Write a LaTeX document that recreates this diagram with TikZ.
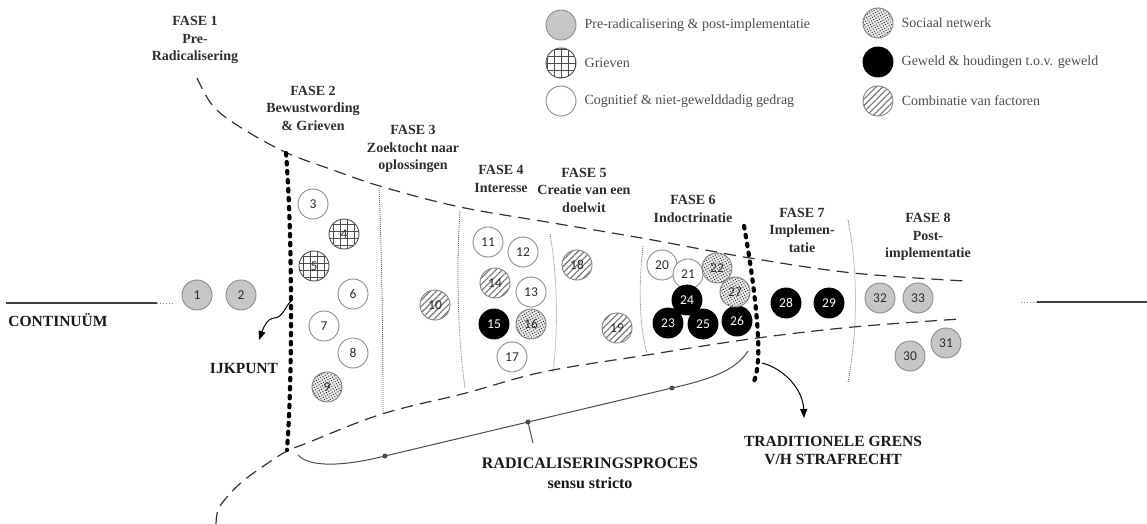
\documentclass[tikz,border=0pt]{standalone}
\usepackage{fontspec}
\setmainfont{Liberation Serif}
\newfontfamily\numfont{Carlito}
\usetikzlibrary{arrows.meta,positioning,patterns.meta}
\definecolor{inkgray}{HTML}{2E2E2E}
\definecolor{legendgray}{HTML}{4D4D4D}
\definecolor{rimgray}{HTML}{8C8C8C}
\definecolor{pregray}{HTML}{C6C6C6}

\tikzset{
  factor/.style={circle, draw=rimgray, line width=0.9pt, fill=white, minimum size=30pt, inner sep=0pt,
    text=inkgray, font=\numfont\fontsize{13.5}{13.5}\selectfont},
  prerad/.style={factor, fill=pregray},
  grief/.style={factor, draw=black!70, path picture={\draw[black!70, line width=0.6pt]
    (path picture bounding box.south west) grid[step=7pt] (path picture bounding box.north east);}},
  cog/.style={factor},
  social/.style={factor, draw=gray, preaction={fill=black!8}, pattern={Dots[distance=2.6pt,radius=0.7pt,angle=30]}, pattern color=black!85},
  violence/.style={factor, draw=black, fill=black, text=white},
  combi/.style={factor, draw=gray, preaction={fill=white}, pattern={Lines[angle=45,distance=4.5pt,line width=1.1pt]}, pattern color=black!55},
  fase/.style={align=center, text=inkgray, font=\bfseries\fontsize{14}{17.5}\selectfont},
  legend/.style={text=legendgray, font=\fontsize{14}{14}\selectfont, inner sep=0pt},
  marker/.style={align=center, text=black!90, font=\bfseries\fontsize{15.5}{18}\selectfont},
  bigdash/.style={line width=1.2pt, dash pattern=on 12pt off 7pt, black!80},
  sepline/.style={line width=0.8pt, dash pattern=on 0.8pt off 1.2pt, black!65},
  gateline/.style={line width=4.2pt, dash pattern=on 2.5pt off 6.5pt, line cap=round},
  contline/.style={line width=1.4pt, black!75},
  bracket/.style={line width=1pt, black!70},
  tick/.style={circle, fill=black!70, inner sep=0pt, minimum size=5pt},
  pointer/.style={line width=1pt, -{Triangle[length=9pt,width=7pt]}},
}

\begin{document}
\begin{tikzpicture}[x=1pt, y=-1pt, line join=round]
  \useasboundingbox (0,0) rectangle (1147,524);

  % legend
  \node[prerad] (lpre) at (561,25) {};
  \node[grief] (lgrief) at (561,63) {};
  \node[cog] (lcog) at (561,101) {};
  \node[social] (lsocial) at (878,23) {};
  \node[violence] (lviolence) at (878,62) {};
  \node[combi] (lcombi) at (878,101) {};
  \node[legend, right=8pt of lpre] {Pre-radicalisering \& post-implementatie};
  \node[legend, right=8pt of lgrief] {Grieven};
  \node[legend, right=8pt of lcog] {Cognitief \& niet-gewelddadig gedrag};
  \node[legend, right=8pt of lsocial] {Sociaal netwerk};
  \node[legend, right=8pt of lviolence] {Geweld \& houdingen t.o.v. geweld};
  \node[legend, right=8pt of lcombi] {Combinatie van factoren};

  % funnel
  \draw[bigdash] plot[smooth, tension=0.6] coordinates {(197,78) (213,106) (240,127) (285,152) (333,170)
    (383,187) (460,207) (553,223) (647,239) (750,258) (853,273) (965,281)};
  \draw[bigdash] plot[smooth, tension=0.6] coordinates {(216,524) (218,510) (227,497) (243,481) (268,463)
    (287,451) (307,443) (382,414) (466,393) (543,372) (647,355) (750,339) (853,327) (960,319)};

  % phase borders
  \draw[sepline] (379,188) .. controls (382,260) and (383,340) .. (383,413);
  \draw[sepline] (460,211) .. controls (456,270) and (458,340) .. (465,388);
  \draw[sepline] (550,234) .. controls (558,280) and (558,330) .. (553,373);
  \draw[sepline] (643,246) .. controls (638,290) and (640,330) .. (647,353);
  \draw[sepline] (848,220) .. controls (858,270) and (858,330) .. (848,382);
  \draw[gateline] (286,153) .. controls (292,230) and (293,370) .. (287,450);
  \draw[gateline] (744,226) .. controls (752,270) and (760,330) .. (758,360)
    .. controls (757,372) and (756,378) .. (753,383);

  % continuum
  \coordinate (contwest) at (6,303);
  \coordinate (contwestend) at (157,303);
  \coordinate (conteast) at (1037,302);
  \coordinate (conteastend) at (1147,302);
  \draw[contline] (contwest) -- (contwestend);
  \draw[line width=1pt, dotted, gray] (contwestend) -- ++(16,0);
  \draw[line width=1pt, dotted, gray] (conteast) -- ++(-18,0);
  \draw[contline] (conteast) -- (conteastend);
  \node[marker] (continuum) at (58,320) {CONTINUÜM};

  % phases
  \node[fase] (fase1) at (195,40) {FASE 1\\Pre-\\Radicalisering};
  \node[fase] (fase2) at (313,108) {FASE 2\\Bewustwording\\\& Grieven};
  \node[fase] (fase3) at (413,149) {FASE 3\\Zoektocht naar\\oplossingen};
  \node[fase] (fase4) at (501,179) {FASE 4\\Interesse};
  \node[fase] (fase5) at (584,190) {FASE 5\\Creatie van een\\doelwit};
  \node[fase] (fase6) at (693,209) {FASE 6\\Indoctrinatie};
  \node[fase] (fase7) at (802,230) {FASE 7\\Implemen-\\tatie};
  \node[fase] (fase8) at (928,237) {FASE 8\\Post-\\implementatie};

  % factors
  \node[prerad] (1) at (197,295) {1};
  \node[prerad] (2) at (241,295) {2};
  \node[cog] (3) at (313,204) {3};
  \node[grief] (4) at (344,234) {4};
  \node[grief] (5) at (314,266) {5};
  \node[cog] (6) at (353,294) {6};
  \node[cog] (7) at (324,326) {7};
  \node[cog] (8) at (353,353) {8};
  \node[social] (9) at (327,387) {9};
  \node[combi] (10) at (435,305) {10};
  \node[cog] (11) at (488,242) {11};
  \node[cog] (12) at (523,252) {12};
  \node[cog] (13) at (531,292) {13};
  \node[combi] (14) at (495,283) {14};
  \node[violence] (15) at (494,324) {15};
  \node[social] (16) at (531,324) {16};
  \node[cog] (17) at (512,357) {17};
  \node[combi] (18) at (577,265) {18};
  \node[combi] (19) at (617,328) {19};
  \node[cog] (20) at (662,265) {20};
  \node[cog] (21) at (688,274) {21};
  \node[social] (22) at (717,268) {22};
  \node[violence] (23) at (668,323) {23};
  \node[violence] (24) at (687,300) {24};
  \node[violence] (25) at (703,324) {25};
  \node[violence] (26) at (737,321) {26};
  \node[social] (27) at (735,292) {27};
  \node[violence] (28) at (786,303) {28};
  \node[violence] (29) at (829,303) {29};
  \node[prerad] (30) at (910,356) {30};
  \node[prerad] (31) at (946,343) {31};
  \node[prerad] (32) at (880,298) {32};
  \node[prerad] (33) at (918,298) {33};

  % ijkpunt
  \node[marker] (ijk) at (244,368) {IJKPUNT};
  \coordinate (ijkfrom) at (292,300);
  \coordinate (ijkto) at (259,340);
  \draw[pointer] (ijkfrom) .. controls (285,306) and (283,318) .. (274,318)
    .. controls (268,318) and (264,326) .. (ijkto);

  % traditional border
  \node[marker] (grens) at (833,450) {TRADITIONELE GRENS\\V/H STRAFRECHT};
  \coordinate (grensfrom) at (762,363);
  \coordinate (grensto) at (804,418);
  \draw[pointer] (grensfrom) .. controls (785,369) and (803,390) .. (grensto);

  % radicalisation process
  \node[marker, font=\bfseries\fontsize{16}{20}\selectfont] (radproc) at (590,473) {RADICALISERINGSPROCES\\sensu stricto};
  \coordinate (bstart) at (298,455);
  \node[tick] (b1) at (385,456) {};
  \node[tick] (b2) at (528,422) {};
  \node[tick] (b3) at (672,388) {};
  \coordinate (bend) at (748,351);
  \coordinate (btick) at (533,443);
  \draw[bracket] (bstart) .. controls (310,468) and (345,466) .. (b1.center) -- (b2.center) -- (b3.center)
    .. controls (712,379) and (736,370) .. (bend);
  \draw[bracket] (b2.center) -- (btick);
\end{tikzpicture}
\end{document}
